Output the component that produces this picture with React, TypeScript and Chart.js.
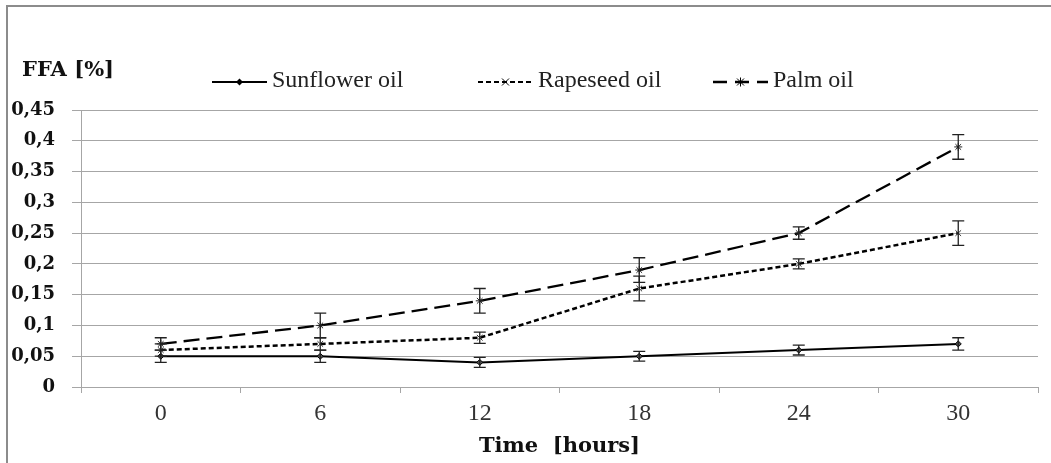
import React, { useEffect, useRef } from "react";
import { Chart, registerables } from "chart.js";

Chart.register(...registerables);

const categories = ["0", "6", "12", "18", "24", "30"];
const yTickLabels = ["0", "0,05", "0,1", "0,15", "0,2", "0,25", "0,3", "0,35", "0,4", "0,45"];
const seriesNames = ["Sunflower oil", "Rapeseed oil", "Palm oil"];
const sunflower = [0.05, 0.05, 0.04, 0.05, 0.06, 0.07];
const sunflowerErr = [0.01, 0.01, 0.008, 0.008, 0.008, 0.01];
const rapeseed = [0.06, 0.07, 0.08, 0.16, 0.2, 0.25];
const rapeseedErr = [0.01, 0.01, 0.009, 0.02, 0.008, 0.02];
const palm = [0.07, 0.1, 0.14, 0.19, 0.25, 0.39];
const palmErr = [0.01, 0.02, 0.02, 0.02, 0.01, 0.02];
const yTitle = "FFA [%]";
const xTitle = "Time  [hours]";

const errors = [sunflowerErr, rapeseedErr, palmErr];

const framePlugin = {
  id: "frame",
  beforeDraw(chart: any) {
    const ctx = chart.ctx;
    ctx.save();
    ctx.fillStyle = "#ffffff";
    ctx.fillRect(0, 0, chart.width, chart.height);
    ctx.fillStyle = "#8c8c8c";
    ctx.fillRect(6, 5, 2, chart.height - 5);
    ctx.fillRect(6, 5, chart.width - 6, 2);
    ctx.restore();
  },
};

const errorBarPlugin = {
  id: "errorBars",
  afterDatasetsDraw(chart: any) {
    const ctx = chart.ctx;
    const y = chart.scales.y;
    ctx.save();
    ctx.strokeStyle = "#222";
    ctx.lineWidth = 1.3;
    ctx.setLineDash([]);
    chart.data.datasets.forEach((ds: any, i: number) => {
      const meta = chart.getDatasetMeta(i);
      const errs = errors[i];
      meta.data.forEach((el: any, j: number) => {
        const v = ds.data[j];
        const e = errs[j];
        const yt = y.getPixelForValue(v + e);
        const yb = y.getPixelForValue(v - e);
        const x = el.x;
        ctx.beginPath();
        ctx.moveTo(x, yt);
        ctx.lineTo(x, yb);
        ctx.moveTo(x - 6, yt);
        ctx.lineTo(x + 6, yt);
        ctx.moveTo(x - 6, yb);
        ctx.lineTo(x + 6, yb);
        ctx.stroke();
      });
    });
    ctx.restore();
  },
};

const textPlugin = {
  id: "texts",
  afterDraw(chart: any) {
    const ctx = chart.ctx;
    ctx.save();
    ctx.fillStyle = "#111";
    ctx.font = "bold 21px 'DejaVu Serif'";
    ctx.textAlign = "left";
    ctx.textBaseline = "alphabetic";
    ctx.fillText(yTitle, 22, 76);

    // legend
    const starts = [212, 478, 713];
    const lineY = 82;
    chart.data.datasets.forEach((ds: any, i: number) => {
      const x0 = starts[i];
      const len = 55;
      ctx.strokeStyle = ds.borderColor;
      ctx.lineWidth = i === 1 ? 2 : ds.borderWidth;
      ctx.setLineDash(i === 1 ? [5, 3] : i === 2 ? [14, 8] : []);
      ctx.beginPath();
      ctx.moveTo(x0, lineY);
      ctx.lineTo(x0 + len, lineY);
      ctx.stroke();
      ctx.setLineDash([]);
      // marker
      const cx = x0 + len / 2;
      ctx.lineWidth = 1;
      ctx.strokeStyle = "#000";
      ctx.fillStyle = "#000";
      const r = 3.5;
      ctx.beginPath();
      if (ds.pointStyle === "rectRot") {
        ctx.moveTo(cx, lineY - r);
        ctx.lineTo(cx + r, lineY);
        ctx.lineTo(cx, lineY + r);
        ctx.lineTo(cx - r, lineY);
        ctx.closePath();
        ctx.fill();
      } else if (ds.pointStyle === "crossRot") {
        ctx.moveTo(cx - r, lineY - r);
        ctx.lineTo(cx + r, lineY + r);
        ctx.moveTo(cx + r, lineY - r);
        ctx.lineTo(cx - r, lineY + r);
        ctx.stroke();
      } else {
        ctx.moveTo(cx - r, lineY - r);
        ctx.lineTo(cx + r, lineY + r);
        ctx.moveTo(cx + r, lineY - r);
        ctx.lineTo(cx - r, lineY + r);
        ctx.moveTo(cx, lineY - r - 1);
        ctx.lineTo(cx, lineY + r + 1);
        ctx.stroke();
      }
      ctx.fillStyle = "#222";
      ctx.font = "24px 'Liberation Serif'";
      ctx.textAlign = "left";
      ctx.textBaseline = "alphabetic";
      ctx.fillText(ds.label, x0 + len + 5, 87);
    });
    ctx.restore();
  },
};

export default function App() {
  const ref = useRef<HTMLCanvasElement>(null);
  useEffect(() => {
    document.body.style.margin = "0";
    const chart = new Chart(ref.current as HTMLCanvasElement, {
      type: "line",
      data: {
        labels: categories,
        datasets: [
          {
            label: seriesNames[0],
            data: sunflower,
            borderColor: "#000",
            borderWidth: 2,
            borderDash: [],
            pointStyle: "rectRot",
            pointRadius: 3,
            pointBackgroundColor: "#555",
            pointBorderColor: "#000",
            pointBorderWidth: 1,
          },
          {
            label: seriesNames[1],
            data: rapeseed,
            borderColor: "#000",
            borderWidth: 2.5,
            borderDash: [5, 3],
            pointStyle: "crossRot",
            pointRadius: 4,
            pointBorderColor: "#333",
            pointBorderWidth: 1,
          },
          {
            label: seriesNames[2],
            data: palm,
            borderColor: "#000",
            borderWidth: 2.3,
            borderDash: [16, 7],
            pointStyle: "star",
            pointRadius: 4,
            pointBorderColor: "#222",
            pointBorderWidth: 1,
          },
        ],
      } as any,
      options: {
        animation: false,
        responsive: false,
        devicePixelRatio: 1,
        layout: { padding: { top: 110, right: 13, left: 0, bottom: 0 } },
        plugins: { legend: { display: false }, tooltip: { enabled: false } },
        elements: { line: { tension: 0 } },
        scales: {
          x: {
            offset: true,
            grid: {
              offset: true,
              drawOnChartArea: false,
              drawTicks: true,
              tickLength: 6,
              color: "#a6a6a6",
            },
            border: { color: "#a6a6a6" },
            ticks: {
              font: { family: "'Liberation Serif'", size: 24 },
              color: "#333",
              padding: 6,
              maxRotation: 0,
            },
            title: {
              display: true,
              text: xTitle,
              font: { family: "'DejaVu Serif'", size: 21, weight: "bold" },
              color: "#111",
              padding: { top: 0, bottom: 4 },
            },
            afterFit: (s: any) => {
              s.height = 76;
            },
          },
          y: {
            min: 0,
            max: 0.45,
            grid: { color: "#a6a6a6", tickLength: 9 },
            border: { color: "#a6a6a6" },
            ticks: {
              stepSize: 0.05,
              padding: 17,
              color: "#111",
              font: { family: "'DejaVu Serif'", size: 18, weight: "bold" },
              callback: (_v: any, i: number) => yTickLabels[i],
            },
            afterFit: (s: any) => {
              s.width = 81;
            },
          },
        },
      } as any,
      plugins: [framePlugin, errorBarPlugin, textPlugin],
    });
    return () => chart.destroy();
  }, []);
  return (
    <div style={{ width: 1051, height: 463 }}>
      <canvas ref={ref} width={1051} height={463} />
    </div>
  );
}
